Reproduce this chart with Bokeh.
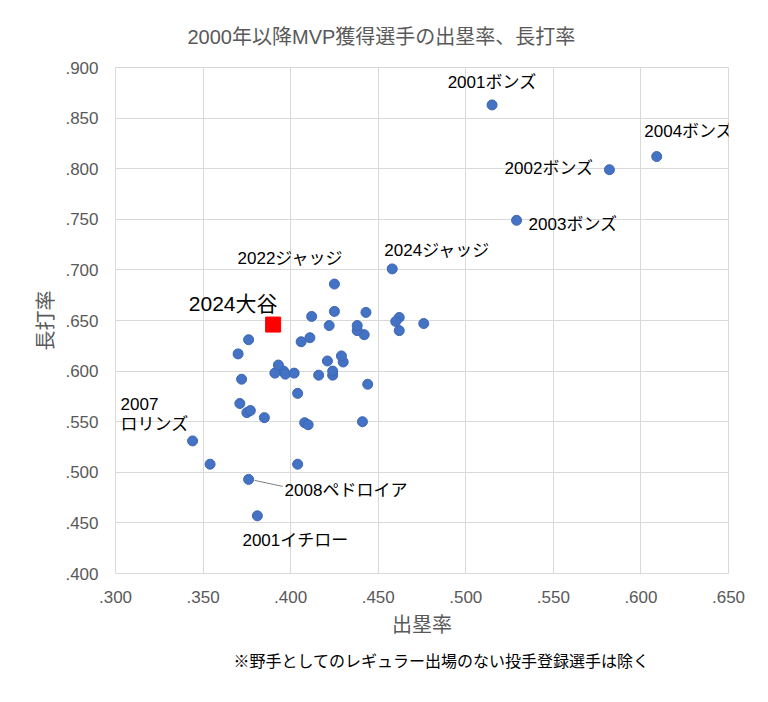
from bokeh.plotting import figure
from bokeh.models import ColumnDataSource, FixedTicker, Range1d, Title
from bokeh.core.properties import value
from bokeh.embed import file_html
from bokeh.resources import INLINE

# ---------------- data ----------------
years = [2000, 2000, 2001, 2001, 2002, 2002, 2003, 2003, 2004, 2004,
         2005, 2005, 2006, 2006, 2007, 2007, 2008, 2008, 2009, 2009,
         2010, 2010, 2011, 2012, 2012, 2013, 2013, 2014, 2015, 2015,
         2016, 2016, 2017, 2017, 2018, 2018, 2019, 2019, 2020, 2020,
         2021, 2021, 2022, 2022, 2023, 2023, 2024]
players = ["ジアンビ", "ケント", "イチロー", "ボンズ", "テハダ", "ボンズ",
           "Aロドリゲス", "ボンズ", "ゲレーロ", "ボンズ",
           "Aロドリゲス", "プホルス", "モーノー", "ハワード", "Aロドリゲス", "ロリンズ",
           "ペドロイア", "プホルス", "マウアー", "プホルス",
           "ハミルトン", "ボット", "ブラウン", "カブレラ", "ポージー", "カブレラ", "マカッチェン",
           "トラウト", "ドナルドソン", "ハーパー",
           "トラウト", "ブライアント", "アルトゥーベ", "スタントン", "ベッツ", "イエリッチ",
           "トラウト", "ベリンジャー", "アブレイユ", "フリーマン",
           "大谷", "ハーパー", "ジャッジ", "ゴールドシュミット", "大谷", "アクーニャ", "ジャッジ"]
obp = [.476, .424, .381, .515, .354, .582, .396, .529, .391, .609,
       .421, .430, .375, .425, .422, .344, .376, .462, .444, .443,
       .411, .424, .397, .393, .408, .442, .404, .377, .371, .460,
       .441, .385, .410, .376, .438, .402, .438, .406, .370, .462,
       .372, .429, .425, .404, .412, .416, .458]
slg = [.647, .596, .457, .863, .508, .799, .600, .749, .598, .812,
       .610, .609, .559, .659, .645, .531, .493, .653, .587, .658,
       .633, .600, .597, .606, .549, .636, .508, .561, .568, .649,
       .550, .554, .547, .631, .640, .598, .645, .629, .617, .640,
       .592, .615, .686, .578, .654, .596, .701]

ohtani_2024_obp = [.390]
ohtani_2024_slg = [.646]
ohtani_2024_label = ["2024大谷"]

x_ticks = [0.30, 0.35, 0.40, 0.45, 0.50, 0.55, 0.60, 0.65]
x_tick_labels = [".300", ".350", ".400", ".450", ".500", ".550", ".600", ".650"]
y_ticks = [0.40, 0.45, 0.50, 0.55, 0.60, 0.65, 0.70, 0.75, 0.80, 0.85, 0.90]
y_tick_labels = [".400", ".450", ".500", ".550", ".600", ".650", ".700", ".750", ".800", ".850", ".900"]

title_text = "2000年以降MVP獲得選手の出塁率、長打率"
x_title = "出塁率"
y_title = "長打率"
note_text = "※野手としてのレギュラー出場のない投手登録選手は除く"

# labelled points: (text, index into data)
label_texts = ["2001ボンズ", "2004ボンズ", "2002ボンズ", "2003ボンズ", "2024ジャッジ",
               "2022ジャッジ", "2007", "ロリンズ", "2008ペドロイア", "2001イチロー"]
label_index = [3, 9, 5, 7, 46, 42, 15, 15, 16, 2]

# label placement (pixels) - styling only
label_dx = [0, 32, -16, 12, 45, -44, -72, -72, 36, 38]
label_dy = [-22, -25, -1, 4, -18, -26, -37, -16, 11, 25]
label_align = ["center", "center", "right", "left", "center", "center", "left", "left", "left", "center"]

FONT = "Liberation Sans, Noto Sans CJK JP"
GRAY = "#595959"

W, H = 768, 702
B_L, B_R, B_T, B_B = 115, 40, 67, 129
x0, x1 = 0.30, 0.65
y0, y1 = 0.40, 0.90

p = figure(width=W, height=H, output_backend="svg", toolbar_location=None,
           x_range=Range1d(x0, x1), y_range=Range1d(y0, y1),
           min_border_left=B_L, min_border_right=B_R,
           min_border_top=B_T, min_border_bottom=B_B)
p.background_fill_color = "white"
p.border_fill_color = "white"
p.outline_line_color = "#d9d9d9"

# title
p.title.text = title_text
p.title.align = "left"
p.title.offset = 72
p.title.standoff = 39
p.title.text_font = FONT
p.title.text_font_size = "20px"
p.title.text_font_style = "normal"
p.title.text_color = GRAY

# axes
for ax in (p.xaxis[0], p.yaxis[0]):
    ax.axis_line_color = None
    ax.major_tick_line_color = None
    ax.minor_tick_line_color = None
    ax.major_label_text_font = FONT
    ax.major_label_text_font_size = "17px"
    ax.major_label_text_color = GRAY
    ax.axis_label_text_font = FONT
    ax.axis_label_text_font_size = "20px"
    ax.axis_label_text_font_style = "normal"
    ax.axis_label_text_color = GRAY

p.xaxis.ticker = FixedTicker(ticks=x_ticks)
p.yaxis.ticker = FixedTicker(ticks=y_ticks)
p.xaxis.major_label_overrides = dict(zip(x_ticks, x_tick_labels))
p.yaxis.major_label_overrides = dict(zip(y_ticks, y_tick_labels))
p.xaxis.axis_label = x_title
p.yaxis.axis_label = y_title
p.xaxis.major_label_standoff = 11
p.yaxis.major_label_standoff = 11
p.xaxis.axis_label_standoff = 8
p.yaxis.axis_label_standoff = 5

p.xgrid.ticker = FixedTicker(ticks=x_ticks)
p.ygrid.ticker = FixedTicker(ticks=y_ticks)
p.xgrid.grid_line_color = "#d9d9d9"
p.ygrid.grid_line_color = "#d9d9d9"

# footnote
note = Title(text=note_text, align="left", offset=118, standoff=24,
             text_font=FONT, text_font_size="16px", text_font_style="normal",
             text_color="#000000")
p.add_layout(note, "below")

# leader line for ペドロイア (from the point towards its label)
px_per_x = (W - B_L - B_R) / (x1 - x0)
px_per_y = (H - B_T - B_B) / (y1 - y0)
i_p = 16
lead = ColumnDataSource(dict(
    x0=[obp[i_p] + 6 / px_per_x], y0=[slg[i_p] - 1 / px_per_y],
    x1=[obp[i_p] + 34 / px_per_x], y1=[slg[i_p] - 7 / px_per_y]))
p.segment(x0="x0", y0="y0", x1="x1", y1="y1", source=lead,
          line_color="#7f7f7f", line_width=1)

# points
src = ColumnDataSource(dict(x=obp, y=slg, year=years, player=players))
p.scatter(x="x", y="y", source=src, marker="circle", size=10,
          fill_color="#4472C4", line_color="#3d67b3", line_width=1)

osrc = ColumnDataSource(dict(x=ohtani_2024_obp, y=ohtani_2024_slg, t=ohtani_2024_label))
p.scatter(x="x", y="y", source=osrc, marker="square", size=15,
          fill_color="#FF0000", line_color="#FF0000")

# labels
lsrc = ColumnDataSource(dict(
    x=[obp[i] for i in label_index], y=[slg[i] for i in label_index],
    t=label_texts, dx=label_dx, dy=label_dy, al=label_align))
p.text(x="x", y="y", text="t", source=lsrc, x_offset="dx", y_offset="dy",
       text_align="al", text_baseline="middle",
       text_font=value(FONT), text_font_size="17px", text_color="#000000")

p.text(x="x", y="y", text="t", source=osrc, x_offset=-40, y_offset=-21,
       text_align="center", text_baseline="middle",
       text_font=value(FONT), text_font_size="21px", text_color="#000000")

open("out.html", "w").write(file_html(p, INLINE))
